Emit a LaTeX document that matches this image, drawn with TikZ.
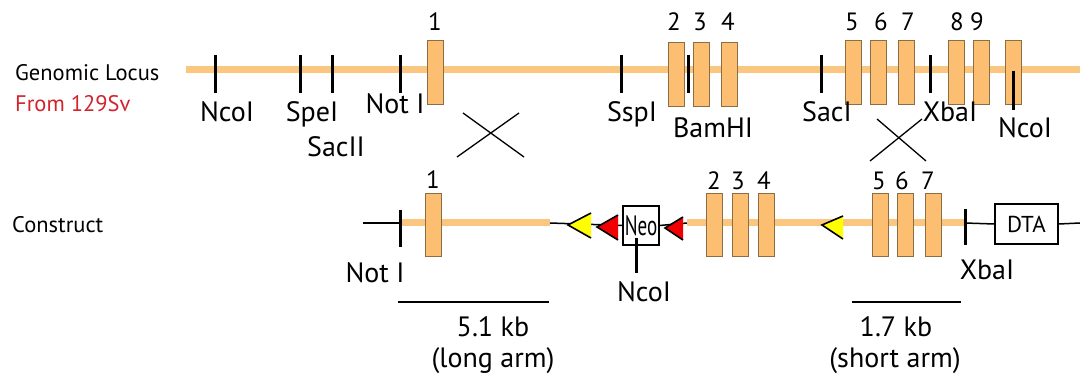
\documentclass[tikz,border=0pt]{standalone}
\usepackage{fontspec}
\setmainfont{PT Sans}
\newfontfamily\neofont[FakeStretch=0.68]{PT Sans}
\definecolor{chromc}{RGB}{251,198,128}
\definecolor{exfill}{RGB}{252,190,112}
\definecolor{exdraw}{RGB}{140,110,70}
\definecolor{redtxt}{RGB}{210,35,45}
\definecolor{yel}{RGB}{255,255,0}
\definecolor{redtri}{RGB}{240,0,0}
\begin{document}
\begin{tikzpicture}[x=1pt,y=-1pt,
  exon/.style={rectangle, draw=exdraw, fill=exfill, line width=0.8pt, minimum width=16pt, minimum height=64pt, inner sep=0pt},
  site/.style={line width=3pt},
  chrom/.style={line width=7pt, draw=chromc},
  thinline/.style={line width=1.5pt},
  rlab/.style={anchor=base, inner sep=0pt, font=\fontsize{28}{32}\selectfont},
  nlab/.style={anchor=base, inner sep=0pt, font=\fontsize{25}{28}\selectfont},
  rowlab/.style={anchor=base west, inner sep=0pt, font=\fontsize{22.5}{26}\selectfont},
  boxed/.style={rectangle, draw, line width=1.5pt, fill=white, inner sep=0pt},
  crossline/.style={line width=1.3pt},
  scalebar/.style={line width=2pt},
  triedge/.style={draw=black, line width=1.6pt, line join=miter}
]
\useasboundingbox (0,0) rectangle (1080,374);

% ---------- Genomic locus ----------
\node[rowlab] (glab) at (15,81) {Genomic Locus};
\node[rowlab, text=redtxt] (gsrc) at (15,112) {From 129Sv};

\coordinate (gL) at (186,70);
\coordinate (gR) at (1080,70);
\draw[chrom] (gL) -- (gR);

\node[exon] (g1) at (435,72.5) {};
\node[exon] (g2) at (676,74) {};
\node[exon] (g3) at (701,74) {};
\node[exon] (g4) at (729,74) {};
\node[exon] (g5) at (853,72.5) {};
\node[exon] (g6) at (878,72.5) {};
\node[exon] (g7) at (906.5,72.5) {};
\node[exon] (g8) at (956.5,72.5) {};
\node[exon] (g9) at (981,72.5) {};
\node[exon] (g10) at (1013.5,72.5) {};

\node[nlab] (n1) at (435,31) {1};
\node[nlab] (n2) at (674,31) {2};
\node[nlab] (n3) at (700,31) {3};
\node[nlab] (n4) at (728,31) {4};
\node[nlab] (n5) at (852,31) {5};
\node[nlab] (n6) at (881,31) {6};
\node[nlab] (n7) at (908,31) {7};
\node[nlab] (n8) at (957,31) {8};
\node[nlab] (n9) at (977,31) {9};

% restriction sites (top)
\coordinate (sN1) at (215,55);  \draw[site] (sN1) -- ++(0,38);
\coordinate (sSp) at (300,55);  \draw[site] (sSp) -- ++(0,38);
\coordinate (sSc) at (332,55);  \draw[site] (sSc) -- ++(0,38);
\coordinate (sNt) at (400,55);  \draw[site] (sNt) -- ++(0,38);
\coordinate (sSs) at (621,55);  \draw[site] (sSs) -- ++(0,38);
\coordinate (sBm) at (688,55);  \draw[site] (sBm) -- ++(0,38);
\coordinate (sSa) at (821,55);  \draw[site] (sSa) -- ++(0,38);
\coordinate (sXb) at (930,55);  \draw[site] (sXb) -- ++(0,38);
\coordinate (sN2) at (1013.5,71); \draw[site] (sN2) -- ++(0,39);

\node[rlab] (lN1) at (227,122) {NcoI};
\node[rlab] (lSp) at (312,122) {SpeI};
\node[rlab] (lSc) at (336,157) {SacII};
\node[rlab] (lNt) at (395,114) {Not I};
\node[rlab] (lSs) at (632,122) {SspI};
\node[rlab] (lBm) at (713,138) {BamHI};
\node[rlab] (lSa) at (827,122) {SacI};
\node[rlab] (lXb) at (950,122) {XbaI};
\node[rlab] (lN2) at (1025,138) {NcoI};

% crossover marks
\draw[crossline] (457,157) -- (519,113);
\draw[crossline] (463,113) -- (524,157);
\draw[crossline] (870,161) -- (922,119);
\draw[crossline] (877,119) -- (926,161);

% ---------- Construct ----------
\node[rowlab] (clab) at (12,233) {Construct};

\coordinate (cL) at (363,223);
\coordinate (armL) at (400,223);
\coordinate (armR) at (550,223);
\coordinate (orL) at (687,223);
\coordinate (xb) at (965,223);
\coordinate (cR) at (1080,223);

\node[boxed, minimum width=36pt, minimum height=39pt, font=\neofont\fontsize{28}{30}\selectfont] (neo) at (641,225.5) {Neo};
\node[boxed, minimum width=63pt, minimum height=40pt, font=\fontsize{23}{26}\selectfont] (dta) at (1026.5,224) {DTA};

\draw[thinline] (cL) -- (armL);
\draw[chrom] (armL) -- (armR);
\draw[thinline] (armR) -- (neo.west);
\draw[thinline] (neo.east) -- (orL);
\draw[chrom] (orL) -- (xb);
\draw[thinline] (xb) -- (dta.west);
\draw[thinline] (dta.east) -- (cR);

\node[exon, minimum height=63pt] (c1) at (433,224.5) {};
\node[exon, minimum height=63pt] (c2) at (714,224.5) {};
\node[exon, minimum height=63pt] (c3) at (740,224.5) {};
\node[exon, minimum height=63pt] (c4) at (766.5,224.5) {};
\node[exon, minimum height=63pt] (c5) at (880,224.5) {};
\node[exon, minimum height=63pt] (c6) at (905,224.5) {};
\node[exon, minimum height=63pt] (c7) at (933,224.5) {};

\node[nlab] (m1) at (433,189) {1};
\node[nlab] (m2) at (714,190) {2};
\node[nlab] (m3) at (738,190) {3};
\node[nlab] (m4) at (764,190) {4};
\node[nlab] (m5) at (879,190) {5};
\node[nlab] (m6) at (902,190) {6};
\node[nlab] (m7) at (928,190) {7};

% loxP / FRT triangles (filled, outlined on their two slanted sides)
\fill[yel] (568,225) -- (591,213) -- (591,238) -- cycle;
\draw[triedge] (591,213) -- (568,225) -- (591,238);
\fill[redtri] (597,227) -- (618,215) -- (618,240) -- cycle;
\draw[triedge] (618,215) -- (597,227) -- (618,240);
\fill[redtri] (665,228) -- (683,217) -- (683,240) -- cycle;
\draw[triedge] (683,217) -- (665,228) -- (683,240);
\fill[yel] (822,225) -- (843,216) -- (843,239) -- cycle;
\draw[triedge] (843,216) -- (822,225) -- (843,239);

% construct sites
\draw[site] (armL) ++(0,-13) -- ++(0,37);
\coordinate (neoTick) at (636,238); \draw[site] (neoTick) -- ++(0,35);
\draw[site] (xb) ++(0,-14) -- ++(0,36);

\node[rlab] (cNt) at (375,283) {Not I};
\node[rlab] (cNc) at (644,302) {NcoI};
\node[rlab] (cXb) at (987,280) {XbaI};

% arms
\coordinate (b1L) at (398,302); \coordinate (b1R) at (549,302);
\draw[scalebar] (b1L) -- (b1R);
\coordinate (b2L) at (852,302); \coordinate (b2R) at (961,302);
\draw[scalebar] (b2L) -- (b2R);
\node[rlab] (k1) at (493,337) {5.1 kb};
\node[rlab] (k1b) at (493,367) {(long arm)};
\node[rlab] (k2) at (896,337) {1.7 kb};
\node[rlab] (k2b) at (895,367) {(short arm)};
\end{tikzpicture}
\end{document}
